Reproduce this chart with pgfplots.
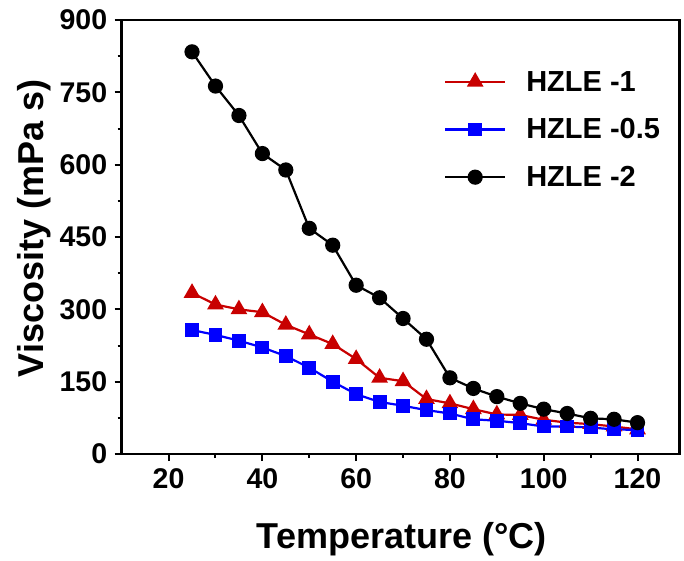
\documentclass[border=0pt]{standalone}
\usepackage{fontspec}
\setmainfont{Liberation Sans}
\usepackage{pgfplots}
\pgfplotsset{compat=1.18}
\definecolor{cred}{RGB}{200,0,0}
\definecolor{cblue}{RGB}{0,0,255}
\begin{document}
\begin{tikzpicture}
\useasboundingbox (-121.7pt,-106pt) rectangle (562.3pt,454pt);
\begin{axis}[
  at={(0,0)}, anchor=south west,
  scale only axis,
  width=558pt, height=434pt,
  xmin=10, xmax=129, ymin=0, ymax=900,
  xtick={20,40,60,80,100,120},
  ytick={0,150,300,450,600,750,900},
  minor xtick={30,50,70,90,110},
  minor ytick={75,225,375,525,675,825},
  tick align=outside,
  xtick pos=bottom, ytick pos=left,
  major tick length=7pt, minor tick length=4pt,
  major tick style={line width=2pt, black},
  minor tick style={line width=2pt, black},
  axis line style={line width=2.5pt, black},
  /pgf/number format/assume math mode=true,
  tick label style={font=\fontsize{28.5}{30}\selectfont\bfseries},
  xticklabel style={yshift=-4pt},
  yticklabel style={xshift=-4pt},
  xlabel={Temperature (°C)},
  ylabel={Viscosity (mPa s)},
  label style={font=\fontsize{36}{40}\selectfont\bfseries},
  xlabel style={at={(rel axis cs:0.502,-0.2166)}, anchor=base},
  ylabel style={at={(rel axis cs:-0.141,0.52)}, anchor=base},
  legend style={draw=none, fill=none, at={(rel axis cs:0.572,0.892)}, anchor=north west,
    font=\fontsize{29}{30}\selectfont\bfseries, row sep=22pt,
    /tikz/every odd column/.append style={column sep=18pt}},
  legend cell align=left,
  legend image code/.code={\draw[#1, mark repeat=2, mark phase=2] plot coordinates {(0pt,0pt) (30pt,0pt) (60pt,0pt)};},
]
\addplot[cred, line width=2.2pt, mark=triangle*, mark size=7.5pt, mark options={solid}] coordinates {
(25,334) (30,310) (35,300) (40,294) (45,268) (50,248) (55,228) (60,197) (65,158) (70,151)
(75,114) (80,105) (85,93) (90,82) (95,81) (100,71) (105,65) (110,62) (115,57) (120,51)};
\addlegendentry{HZLE -1}
\addplot[cblue, line width=2.2pt, mark=square*, mark size=5.8pt] coordinates {
(25,257) (30,247) (35,235) (40,221) (45,203) (50,179) (55,150) (60,124) (65,108) (70,100)
(75,91) (80,84) (85,72) (90,69) (95,64) (100,57) (105,57) (110,55) (115,51) (120,50)};
\addlegendentry{HZLE -0.5}
\addplot[black, line width=2.2pt, mark=*, mark size=6.5pt] coordinates {
(25,834) (30,763) (35,702) (40,623) (45,589) (50,468) (55,433) (60,350) (65,324) (70,281)
(75,238) (80,158) (85,136) (90,119) (95,105) (100,93) (105,84) (110,74) (115,72) (120,65)};
\addlegendentry{HZLE -2}
\end{axis}
\end{tikzpicture}
\end{document}
